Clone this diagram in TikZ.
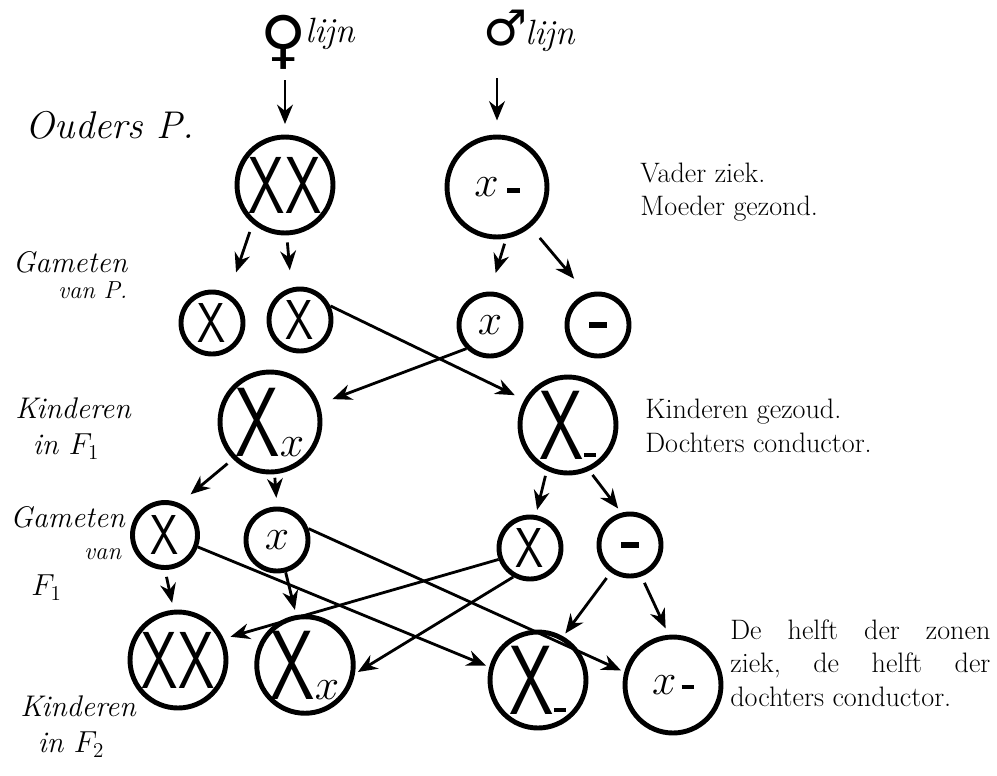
\documentclass[tikz,border=0pt]{standalone}
\usepackage{fontspec}
\newfontfamily\symfont{DejaVu Sans}
\usetikzlibrary{arrows.meta}
\newcommand{\XXb}{\scalebox{0.72}[1]{\fontsize{46}{46}\selectfont\sffamily XX}}
\newcommand{\Xb}{\scalebox{0.72}[1]{\fontsize{56}{56}\selectfont\sffamily X}}
\newcommand{\Xs}{\scalebox{0.8}[1]{\fontsize{32}{32}\selectfont\sffamily X}}
\newcommand{\xs}[1]{{\fontsize{#1}{#1}\selectfont$x$}}
\newcommand{\mydash}[1]{\rule[#1]{7pt}{2.6pt}}
\tikzset{
  gen/.style={circle,draw,line width=2.8pt,inner sep=0pt},
  big/.style={gen,minimum size=1.92cm},
  small/.style={gen,minimum size=1.24cm},
  arr/.style={-{Stealth[length=11pt,width=9pt]},line width=1.6pt},
  hand/.style={font=\itshape\fontsize{17}{17}\selectfont,inner sep=0pt},
  print/.style={font=\fontsize{16}{19}\selectfont\addfontfeatures{LetterSpace=3},align=left,anchor=west,inner sep=0pt},
}
\begin{document}
\begin{tikzpicture}[x=0.02cm,y=-0.02cm]
\useasboundingbox[fill=white] (0,0) rectangle (997,775);

% headings
\node[hand,font=\itshape\fontsize{22}{22}\selectfont] (ouders) at (110,125) {Ouders P.};
\node[font=\symfont\fontsize{36}{36}\selectfont,inner sep=0pt] (fem) at (284,42) {♀};
\node[hand,font=\itshape\fontsize{20}{20}\selectfont] (femL) at (330,34) {lijn};
\node[font=\symfont\fontsize{28}{28}\selectfont,inner sep=0pt] (mal) at (506,28) {♂};
\node[hand,font=\itshape\fontsize{20}{20}\selectfont] (malL) at (550,36) {lijn};

% generation P
\node[big] (pXX) at (285,185) {\XXb};
\node[big,minimum size=2cm] (pXm) at (497,187) {\xs{30}\hspace{5pt}\mydash{2pt}};

% gametes P
\node[small] (gX1) at (212,323) {\Xs};
\node[small] (gX2) at (300,320) {\Xs};
\node[small] (gx) at (490,325) {\xs{28}};
\node[small] (gm) at (598,325) {\rule{10pt}{3.5pt}};

% F1
\node[big,minimum size=2cm] (fXx) at (270,422) {\Xb\xs{26}};
\node[big] (fXm) at (568,425) {\Xb\mydash{1pt}};

% gametes F1
\node[small,minimum size=1.3cm] (hX) at (165,535) {\Xs};
\node[small] (hx) at (277,540) {\xs{28}};
\node[small] (hX2) at (530,548) {\Xs};
\node[small] (hm) at (630,545) {\rule{10pt}{3.5pt}};

% F2
\node[big] (iXX) at (178,660) {\XXb};
\node[big] (iXx) at (305,665) {\Xb\xs{26}};
\node[big] (iXm) at (538,680) {\Xb\mydash{1pt}};
\node[big] (ix) at (673,685) {\xs{30}\hspace{3pt}\mydash{3pt}};

% left labels
\node[hand,align=right] (gamP) at (70,275) {Gameten\\[-2pt]{\fontsize{14}{14}\selectfont van P.}};
\node[hand,align=left,anchor=north west] (kinF1) at (15,397) {Kinderen\\[4pt]\hspace*{10pt}in $F_1$};
\node[hand,align=left,anchor=north west] (gamF1) at (10,506) {Gameten\\[1pt]\hspace*{42pt}{\fontsize{14}{14}\selectfont van}\\[4pt]\hspace*{12pt}$F_1$};
\node[hand,align=left,anchor=north west] (kinF2) at (20,695) {Kinderen\\[4pt]\hspace*{10pt}in $F_2$};

% right texts
\node[print] (t1) at (640,192) {Vader ziek.\\Moeder gezond.};
\node[print] (t2) at (645,426) {Kinderen gezoud.\\Dochters conductor.};
\node[print] (t3) at (730,663) {\hbox to 148pt{De\hfill helft\hfill der\hfill zonen}\\\hbox to 148pt{ziek,\hfill de\hfill helft\hfill der}\\dochters conductor.};

% arrows
\draw[arr,shorten <=6pt,shorten >=6pt] (fem.south -| pXX) -- (pXX.north);
\draw[arr,shorten <=18pt,shorten >=8pt] (mal.south -| pXm) -- (pXm.north);
\draw[arr,shorten <=5pt,shorten >=13pt] (pXX.230) -- (gX1.60);
\draw[arr,shorten <=4pt,shorten >=10pt] (pXX.272) -- (gX2.105);
\draw[arr,shorten <=3pt,shorten >=11pt] (pXm.280) -- (gx.90);
\draw[arr,shorten <=8pt,shorten >=11pt] (pXm.310) -- (gm.110);
\draw[arr,shorten >=6pt] (gX2.25) -- (fXm.150);
\draw[arr,shorten >=8pt] (gx.225) -- (fXx.20);
\draw[arr,shorten <=4pt,shorten >=8pt] (fXx.225) -- (hX.65);
\draw[arr,shorten <=2pt,shorten >=5pt] (fXx.275) -- (hx.90);
\draw[arr,shorten <=3pt,shorten >=3pt] (fXm.245) -- (hX2.80);
\draw[arr,shorten <=3pt,shorten >=3pt] (fXm.295) -- (hm.105);
\draw[arr,shorten <=4pt,shorten >=4pt] (hX.270) -- (iXX.95);
\draw[arr,shorten >=2pt] (hX.340) -- (iXm.165);
\draw[arr,shorten >=3pt] (hx.285) -- (iXx.100);
\draw[arr,shorten >=2pt] (hx.20) -- (ix.165);
\draw[arr,shorten >=4pt] (hX2.200) -- (iXX.25);
\draw[arr,shorten >=2pt] (hX2.240) -- (iXx.350);
\draw[arr,shorten <=4pt,shorten >=2pt] (hm.235) -- (iXm.60);
\draw[arr,shorten <=4pt,shorten >=4pt] (hm.290) -- (ix.95);
\end{tikzpicture}
\end{document}
